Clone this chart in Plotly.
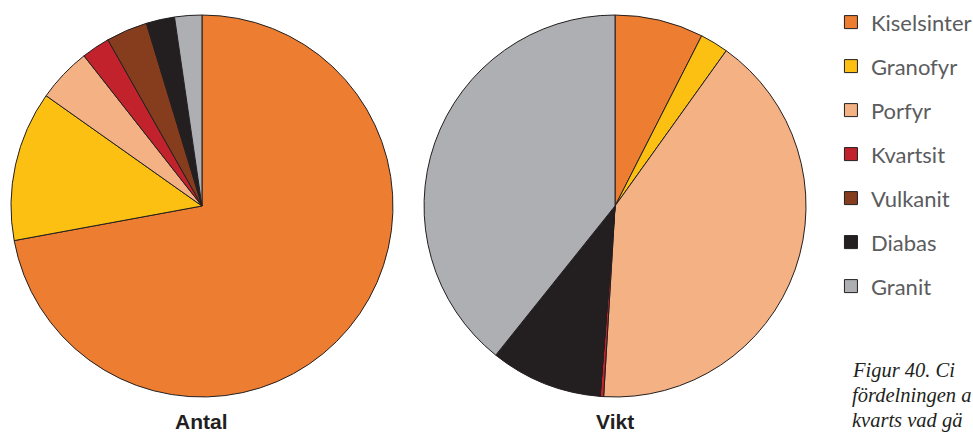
import plotly.graph_objects as go

# Rock types and their shares (%) by count and by weight
categories = ["Kiselsinter", "Granofyr", "Porfyr", "Kvartsit", "Vulkanit", "Diabas", "Granit"]
antal = [72.1, 12.7, 4.6, 2.4, 3.5, 2.4, 2.3]
vikt = [7.5, 2.4, 41.1, 0.3, 0.0, 9.5, 39.3]
colors = ["#ED7D31", "#FBC011", "#F4B183", "#C1222B", "#853D1E", "#231F20", "#AEAFB2"]
pie_titles = ["Antal", "Vikt"]
caption_lines = ["Figur 40. Ci", "fördelningen a", "kvarts vad gä"]

W, H = 973, 434
edge = "#231F20"

fig = go.Figure()

domains = [([0.0113, 0.4039], [0.0853, 0.9654]), ([0.4358, 0.8284], [0.0853, 0.9654])]
for vals, title, (dx, dy) in zip([antal, vikt], pie_titles, domains):
    fig.add_trace(go.Pie(
        labels=categories,
        values=vals,
        sort=False,
        direction="clockwise",
        rotation=0,
        marker=dict(colors=colors, line=dict(color=edge, width=1)),
        textinfo="none",
        hoverinfo="label+percent",
        showlegend=False,
        domain=dict(x=dx, y=dy),
    ))
    # chart caption under each pie
    fig.add_annotation(
        text=f"<b>{title}</b>", x=(dx[0] + dx[1]) / 2, y=1 - 421 / H,
        xref="paper", yref="paper", xanchor="center", yanchor="middle",
        showarrow=False,
        font=dict(family="Liberation Sans", size=21, color=edge),
    )

# Legend entries, one group per rock type so the group gap sets the spacing
for name, c in zip(categories, colors):
    fig.add_trace(go.Scatter(
        x=[None], y=[None], mode="markers", name=name, legendgroup=name,
        marker=dict(symbol="square", size=13, color=c, line=dict(color=edge, width=1)),
        hoverinfo="skip",
    ))

caption_y = [370, 395, 420]
for line, yp in zip(caption_lines, caption_y):
    fig.add_annotation(
        text=line, x=850 / W, y=1 - yp / H, xref="paper", yref="paper",
        xanchor="left", yanchor="middle", showarrow=False,
        font=dict(family="Liberation Serif", size=20.5, color=edge, style="italic"),
    )

fig.update_layout(
    width=W, height=H,
    margin=dict(l=0, r=0, t=0, b=0, autoexpand=False),
    paper_bgcolor="white", plot_bgcolor="white",
    xaxis=dict(visible=False), yaxis=dict(visible=False),
    legend=dict(
        x=0.854, y=0.997, xanchor="left", yanchor="top",
        traceorder="grouped", tracegroupgap=12.4,
        font=dict(family="Lato", size=22, color="#5B5C5E"),
        bgcolor="rgba(0,0,0,0)", itemclick=False,
    ),
)

fig.write_html("out.html")
